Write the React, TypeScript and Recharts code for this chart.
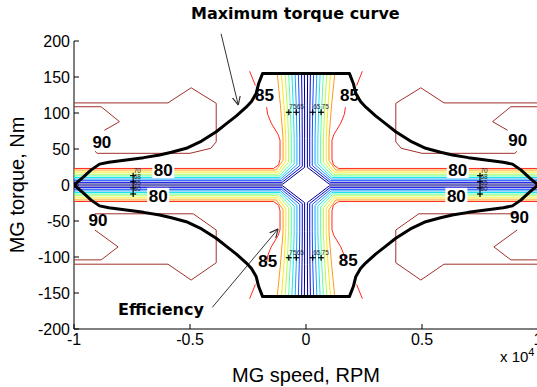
import React from "react";
import { ComposedChart, Scatter, XAxis, YAxis, ReferenceLine } from "recharts";

const FONT = '"Liberation Sans", Arial, sans-serif';
const BOLD_FONT = '"DejaVu Sans", Verdana, sans-serif';

// speed axis is in units of 10^4 rpm
const speedTicks = [-1, -0.5, 0, 0.5, 1];
const torqueTicks = [-200, -150, -100, -50, 0, 50, 100, 150, 200];

// max torque envelope, upper-left quarter: flat top -> zero torque at -1
const envelopeSpeed = [-0.187, -0.204, -0.215, -0.235, -0.258, -0.3, -0.34, -0.387, -0.45, -0.516, -0.58, -0.631, -0.7, -0.775, -0.85, -0.89, -0.926, -0.96, -1];
const envelopeTorque = [155, 141, 127, 116, 108, 96, 86, 74, 61, 51, 45.5, 41.7, 38, 34.7, 31.5, 29, 21, 11, 0];

// efficiency contours (low -> high), read in the upper-left quarter
const levelColors = ["#00008b", "#0000e6", "#1a4dff", "#1aa3ff", "#19e6f0", "#5cffa3", "#b3ff4d", "#ffe619", "#ff9a1a"];
const levelTorque = [1.3, 3.7, 6, 8.2, 10.4, 12.6, 15, 18, 20.8];
const levelCornerSpeed = [0.1, 0.103, 0.106, 0.109, 0.112, 0.115, 0.118, 0.122, 0.128];
const levelCornerTorque = [24.5, 25.8, 27, 28.2, 29.4, 30.6, 31.8, 33, 34.2];
const levelSpeedLow = [0.006, 0.016, 0.027, 0.039, 0.051, 0.063, 0.075, 0.087, 0.099];
const levelSpeedMid = [0.006, 0.017, 0.029, 0.042, 0.055, 0.068, 0.081, 0.095, 0.11];
const levelSpeedTop = [0.007, 0.019, 0.033, 0.047, 0.061, 0.075, 0.09, 0.106, 0.124];

// 85 % contour
const red85Band = [[-1, 23], [-0.14, 23], [-0.118, 28], [-0.112, 36], [-0.112, 62], [-0.12, 70], [-0.15, 86], [-0.165, 98], [-0.17, 108]];
const red85Tip = [[-0.218, 138], [-0.243, 158]];

// 90 % contour islands (left side, mirrored to the right)
const brownUpperOuter = [[-0.91, 47], [-0.9, 44], [-0.5, 44], [-0.41, 51], [-0.387, 60], [-0.387, 113.5], [-0.495, 135], [-0.595, 114], [-1, 114]];
const brownUpperInner = [[-1, 108.7], [-0.883, 108.7], [-0.804, 88], [-0.869, 76]];
const brownLowerOuter = [[-0.91, -40], [-0.486, -40], [-0.387, -62.5], [-0.387, -108], [-0.495, -132], [-0.595, -110], [-1, -110]];
const brownLowerInner = [[-1, -104], [-0.883, -104], [-0.81, -86], [-0.91, -62.5]];

// inline contour labels
const tagSpeed = [-0.615, -0.637, 0.654, 0.648, -0.179, 0.187, -0.165, 0.182, -0.88, 0.913, -0.897, 0.92];
const tagTorque = [20.8, -15, 20.8, -15, 125, 125, -106, -104, 60, 62, -48, -44];
const tagText = ["80", "80", "80", "80", "85", "85", "85", "85", "90", "90", "90", "90"];

// small clabel "+" markers
const plusSpeed = [-0.074, -0.042, 0.029, 0.065, -0.074, -0.042, 0.029, 0.065, -0.745, -0.745, -0.745, -0.745, 0.75, 0.75, 0.75, 0.75];
const plusTorque = [101, 101, 101, 101, -101, -101, -101, -101, 13, 4.5, -4, -12.5, 13, 4.5, -4, -12.5];
const plusText = ["75", "65", "65", "75", "75", "65", "65", "75", "70", "68", "65", "60", "70", "68", "65", "60"];

// annotation arrows [from, to]
const torqueArrow = [{ x: -0.366, y: 210 }, { x: -0.292, y: 111 }];
const efficiencyArrow = [{ x: -0.404, y: -170 }, { x: -0.12, y: -61 }];

type P = { x: number; y: number };
const QUADRANTS: [number, number][] = [[1, 1], [-1, 1], [1, -1], [-1, -1]];
const place = (pts: number[][], sx: number, sy: number): P[] => pts.map(([x, y]) => ({ x: x * sx, y: y * sy }));

interface Path { id: string; color: string; width: number; points: P[] }
const paths: Path[] = [];

levelColors.forEach((color, i) => {
  const ul = [
    [-1, levelTorque[i]],
    [-levelCornerSpeed[i], levelTorque[i]],
    [-levelSpeedLow[i], levelCornerTorque[i]],
    [-levelSpeedLow[i], 65],
    [-levelSpeedMid[i], 110],
    [-levelSpeedTop[i], 155],
  ];
  QUADRANTS.forEach(([sx, sy], q) => paths.push({ id: `lv${i}-${q}`, color, width: 1, points: place(ul, sx, sy) }));
});

QUADRANTS.forEach(([sx, sy], q) => {
  paths.push({ id: `r85b-${q}`, color: "#ff2a1a", width: 1, points: place(red85Band, sx, sy) });
  paths.push({ id: `r85t-${q}`, color: "#ff2a1a", width: 1, points: place(red85Tip, sx, sy) });
});

[1, -1].forEach((sx) => {
  [brownUpperOuter, brownUpperInner, brownLowerOuter, brownLowerInner].forEach((pts, k) =>
    paths.push({ id: `b90-${sx}-${k}`, color: "#a0322c", width: 1, points: place(pts, sx, 1) })
  );
});

const envelopeUL = envelopeSpeed.map((s, i) => [s, envelopeTorque[i]]);
[1, -1].forEach((sy) => {
  const left = place([...envelopeUL].reverse(), 1, sy);
  const right = place(envelopeUL, -1, sy);
  paths.push({ id: `env-${sy}`, color: "#000", width: 3, points: [...left, ...right] });
});

const tags = tagText.map((t, i) => ({ x: tagSpeed[i], y: tagTorque[i], t }));
const pluses = plusText.map((t, i) => ({ x: plusSpeed[i], y: plusTorque[i], t }));

const NoDot = () => <g />;

const Tag = (p: any) => {
  const { cx, cy, payload } = p;
  const boxed = payload.t === "80";
  return (
    <g>
      {boxed && <rect x={cx - 11} y={cy - 8} width={22} height={16} fill="#fff" />}
      <text x={cx} y={cy + 6} textAnchor="middle" fontSize={17} fontWeight="bold" fontFamily={FONT} fill="#000">
        {payload.t}
      </text>
    </g>
  );
};

const Plus = (p: any) => {
  const { cx, cy, payload } = p;
  return (
    <g>
      <line x1={cx - 3} y1={cy} x2={cx + 3} y2={cy} stroke="#000" strokeWidth={1.2} />
      <line x1={cx} y1={cy - 3} x2={cx} y2={cy + 3} stroke="#000" strokeWidth={1.2} />
      <text x={cx + 0.5} y={cy - 3} fontSize={6.5} fontFamily={FONT} fill="#223">
        {payload.t}
      </text>
    </g>
  );
};

const ArrowLine = (p: any) => (
  <line x1={p.x1} y1={p.y1} x2={p.x2} y2={p.y2} stroke="#333" strokeWidth={1} markerEnd="url(#openArrow)" />
);

const tickStyle = { fontSize: 16, fill: "#000", fontFamily: FONT };

export default function App() {
  return (
    <div style={{ position: "absolute", left: 0, top: 0, width: 537, height: 387, overflow: "hidden", background: "#fff" }}>
      <ComposedChart width={560} height={387} margin={{ top: 41, right: 22, bottom: 0, left: 0 }}>
        <defs>
          <marker id="openArrow" viewBox="0 0 10 10" refX="9.5" refY="5" markerWidth="9" markerHeight="9" markerUnits="userSpaceOnUse" orient="auto">
            <path d="M0,0.5 L9.5,5 L0,9.5" fill="none" stroke="#333" strokeWidth={1.3} />
          </marker>
        </defs>

        <XAxis
          dataKey="x"
          type="number"
          domain={[-1, 1]}
          ticks={speedTicks}
          interval={0}
          allowDataOverflow
          height={58}
          tickSize={-5}
          tickMargin={10}
          tick={tickStyle}
          axisLine={{ stroke: "#000" }}
          tickLine={{ stroke: "#000" }}
          label={{ value: "MG speed, RPM", position: "insideBottom", offset: 5, fontSize: 20, fill: "#000", fontFamily: FONT }}
        />
        <XAxis
          xAxisId="top"
          orientation="top"
          type="number"
          domain={[-1, 1]}
          ticks={speedTicks}
          interval={0}
          height={0}
          tickSize={-5}
          tickFormatter={() => ""}
          axisLine={{ stroke: "#000" }}
          tickLine={{ stroke: "#000" }}
        />
        <YAxis
          dataKey="y"
          type="number"
          domain={[-200, 200]}
          ticks={torqueTicks}
          interval={0}
          allowDataOverflow
          width={74}
          tickSize={-5}
          tickMargin={9}
          tick={tickStyle}
          axisLine={{ stroke: "#000" }}
          tickLine={{ stroke: "#000" }}
          label={{ value: "MG torque, Nm", angle: -90, position: "insideLeft", offset: 17, fontSize: 20, fill: "#000", fontFamily: FONT, style: { textAnchor: "middle" } }}
        />
        <YAxis
          yAxisId="right"
          orientation="right"
          type="number"
          domain={[-200, 200]}
          ticks={torqueTicks}
          interval={0}
          width={0}
          tickSize={-5}
          tickFormatter={() => ""}
          axisLine={{ stroke: "#000" }}
          tickLine={{ stroke: "#000" }}
        />

        {paths.map((p) => (
          <Scatter
            key={p.id}
            data={p.points}
            fill={p.color}
            shape={NoDot}
            line={{ stroke: p.color, strokeWidth: p.width, strokeLinejoin: "round" }}
            isAnimationActive={false}
          />
        ))}

        <Scatter data={tags} shape={Tag} isAnimationActive={false} />
        <Scatter data={pluses} shape={Plus} isAnimationActive={false} />

        <ReferenceLine segment={torqueArrow} ifOverflow="visible" shape={ArrowLine} />
        <ReferenceLine segment={efficiencyArrow} ifOverflow="visible" shape={ArrowLine} />
      </ComposedChart>

      <svg width={537} height={387} style={{ position: "absolute", left: 0, top: 0, pointerEvents: "none" }}>
        <text x={191} y={18.5} fontFamily={BOLD_FONT} fontWeight="bold" fontSize={16} fill="#000">
          Maximum torque curve
        </text>
        <text x={118} y={315} fontFamily={BOLD_FONT} fontWeight="bold" fontSize={16} fill="#000">
          Efficiency
        </text>
        <text x={500} y={362} fontFamily={FONT} fontSize={15} fill="#000">
          x 10<tspan dy={-6} fontSize={11}>4</tspan>
        </text>
      </svg>
    </div>
  );
}
